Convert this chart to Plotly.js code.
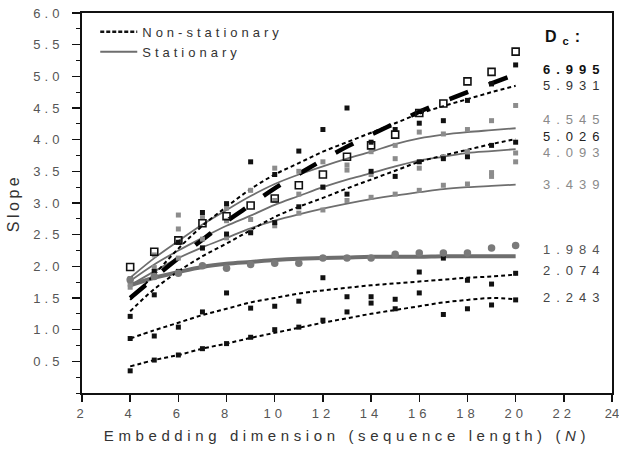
<!DOCTYPE html>
<html>
<head>
<meta charset="utf-8">
<script src="https://cdn.plot.ly/plotly-3.0.1.min.js"></script>
<style>
  body { margin: 0; background: #fff; }
  #chart { width: 619px; height: 450px; }
  .xtick text, .ytick text { letter-spacing: 4px; }
  .xtick:last-child text { letter-spacing: 0px; }
  .legendtext { letter-spacing: 4px; }
  .annotation-text { letter-spacing: 6px; }
  .xtitle { letter-spacing: 4.6px; }
  .ytitle { letter-spacing: 3.5px; }
</style>
</head>
<body>
<div id="chart"></div>
<script>
// Embedding dimension N
var dims = [4,5,6,7,8,9,10,11,12,13,14,15,16,17,18,19,20];

// Non-stationary fits
var fitNS_6995 = [1.50,1.82,2.13,2.42,2.71,2.97,3.23,3.46,3.68,3.89,4.08,4.26,4.44,4.60,4.75,4.89,5.03];
var fitNS_5931 = [1.47,1.87,2.28,2.64,2.94,3.22,3.45,3.63,3.81,3.96,4.11,4.26,4.41,4.53,4.64,4.75,4.85];
var fitNS_5026 = [1.29,1.64,1.92,2.16,2.36,2.57,2.78,2.94,3.08,3.23,3.37,3.51,3.65,3.75,3.84,3.93,4.01];
var fitNS_2074 = [0.86,0.99,1.11,1.23,1.33,1.43,1.50,1.57,1.62,1.66,1.70,1.73,1.76,1.79,1.82,1.84,1.87];
var fitNS_2243 = [0.42,0.52,0.60,0.70,0.78,0.87,0.95,1.03,1.11,1.18,1.25,1.31,1.37,1.43,1.47,1.50,1.48];

// Stationary fits
var fitS_4545 = [1.82,2.13,2.40,2.66,2.89,3.11,3.30,3.45,3.58,3.70,3.81,3.93,4.02,4.08,4.12,4.15,4.18];
var fitS_4093 = [1.77,2.03,2.25,2.45,2.64,2.80,2.97,3.11,3.25,3.37,3.47,3.58,3.67,3.73,3.79,3.82,3.85];
var fitS_3439 = [1.70,1.92,2.13,2.30,2.45,2.60,2.72,2.82,2.91,2.99,3.06,3.12,3.17,3.22,3.25,3.27,3.29];
var fitS_1984 = [1.70,1.82,1.91,1.99,2.04,2.07,2.10,2.12,2.13,2.14,2.15,2.15,2.15,2.16,2.16,2.16,2.16];

// Measured slopes
var ptsNS_6995 = [1.99,2.23,2.41,2.68,2.79,2.96,3.07,3.28,3.45,3.73,3.91,4.08,4.42,4.57,4.92,5.07,5.39];
var ptsNS_5931 = [1.80,1.92,2.38,2.85,2.99,3.65,3.45,3.82,4.16,4.50,3.96,4.16,4.26,4.30,4.62,4.88,5.18];
var ptsNS_5026 = [1.21,1.55,1.92,2.29,2.51,2.53,2.69,2.94,3.25,3.14,3.50,3.42,3.65,3.70,3.73,3.91,3.96];
var ptsNS_2074 = [0.86,0.90,1.04,1.28,1.58,1.34,1.37,1.45,1.82,1.52,1.52,1.48,1.91,2.13,1.78,1.72,1.89];
var ptsNS_2243 = [0.35,0.52,0.60,0.70,0.78,0.88,1.00,1.04,1.15,1.28,1.42,1.33,1.58,1.24,1.33,1.39,1.47];
var ptsS_4545 = [1.77,2.18,2.81,2.77,2.92,3.20,3.55,3.50,3.65,3.60,3.81,3.91,4.12,4.09,4.16,4.30,4.54];
var ptsS_4093 = [1.67,1.98,2.59,2.43,2.72,2.74,3.04,3.14,3.25,3.52,3.45,3.70,3.55,3.73,3.81,3.48,3.79];
var ptsS_3439 = [1.72,1.92,2.13,2.29,2.45,2.55,2.64,2.84,2.89,3.04,3.09,3.14,3.20,3.28,3.30,3.42,3.65];
var ptsS_1984 = [1.79,1.84,1.89,2.01,1.97,2.03,2.05,2.05,2.13,2.13,2.13,2.19,2.21,2.21,2.21,2.29,2.33];

// Correlation dimension labels
var dcLabels = ['6.995','5.931','4.545','5.026','4.093','3.439','1.984','2.074','2.243'];
var dcLabelY = [5.11,4.86,4.32,4.05,3.79,3.30,2.26,1.94,1.51];
var dcColors = ['#111','#333','#8a8a8a','#222','#8a8a8a','#8a8a8a','#555','#444','#444'];
var dcBold = [true,false,false,false,false,false,false,false,false];

var xTicks = [2,4,6,8,10,12,14,16,18,20,22,24];
var yTicks = [0.5,1.0,1.5,2.0,2.5,3.0,3.5,4.0,4.5,5.0,5.5,6.0];

var GRAY = '#6e6e6e';
var traces = [];
function line(y, color, width, dash) {
  traces.push({x: dims, y: y, mode: 'lines', line: {color: color, width: width, dash: dash, shape: 'spline'}, showlegend: false, hoverinfo: 'skip'});
}
function pts(y, symbol, size, color, lineColor, lineWidth) {
  traces.push({x: dims, y: y, mode: 'markers', marker: {symbol: symbol, size: size, color: color, line: {color: lineColor || color, width: lineWidth || 0}}, showlegend: false, hoverinfo: 'skip'});
}
// stationary fits
line(fitS_4545, GRAY, 1.8, 'solid');
line(fitS_4093, GRAY, 1.8, 'solid');
line(fitS_3439, GRAY, 1.8, 'solid');
line(fitS_1984, GRAY, 4, 'solid');
// non-stationary fits
line(fitNS_5931, '#000', 2, '4px,3px');
line(fitNS_5026, '#000', 2, '4px,3px');
line(fitNS_2074, '#000', 2, '4px,3px');
line(fitNS_2243, '#000', 2, '4px,3px');
line(fitNS_6995, '#000', 4.5, '20px,22px');
// points
pts(ptsS_4545, 'square', 5, '#8c8c8c');
pts(ptsS_4093, 'square', 5, '#8c8c8c');
pts(ptsS_3439, 'square', 5, '#8c8c8c');
pts(ptsNS_5931, 'square', 5, '#111');
pts(ptsNS_5026, 'square', 5, '#111');
pts(ptsNS_2074, 'square', 5, '#111');
pts(ptsNS_2243, 'square', 5, '#111');
pts(ptsS_1984, 'circle', 7.5, '#7a7a7a');
pts(ptsNS_6995, 'square-open', 7, '#111', '#111', 1.6);

// legend entries
traces.push({x: [null], y: [null], mode: 'lines', name: 'Non-stationary', line: {color: '#111', width: 2.5, dash: '4px,2px'}});
traces.push({x: [null], y: [null], mode: 'lines', name: 'Stationary', line: {color: GRAY, width: 2}});

var annotations = dcLabels.map(function (t, i) {
  return {x: 21.1, y: dcLabelY[i], xref: 'x', yref: 'y', xanchor: 'left', yanchor: 'middle',
    text: dcBold[i] ? '<b>' + t + '</b>' : t, showarrow: false, borderpad: 0,
    font: {family: 'Liberation Sans, Arial, sans-serif', size: 13, color: dcColors[i]}};
});
annotations.push({x: 21.15, y: 5.62, xref: 'x', yref: 'y', xanchor: 'left', yanchor: 'middle',
  text: '<b>D</b><sub><b>c</b></sub><b>:</b>', showarrow: false,
  font: {family: 'Liberation Sans, Arial, sans-serif', size: 16, color: '#111'}});

var axisFont = {family: 'Liberation Sans, Arial, sans-serif', size: 13, color: '#555'};
var layout = {
  width: 619, height: 450,
  margin: {l: 82, r: 7, t: 13, b: 57},
  paper_bgcolor: '#fff', plot_bgcolor: '#fff',
  font: {family: 'Liberation Sans, Arial, sans-serif'},
  showlegend: true,
  legend: {x: 0.025, y: 0.99, xanchor: 'left', yanchor: 'top', bgcolor: 'rgba(0,0,0,0)',
    font: {family: 'Liberation Sans, Arial, sans-serif', size: 13, color: '#333'}, itemwidth: 37, tracegroupgap: 0},
  xaxis: {range: [2, 24], tickmode: 'array', tickvals: xTicks, ticktext: xTicks.map(String),
    ticks: 'outside', ticklen: 7, tickwidth: 1.5, tickcolor: '#111', ticklabeloverflow: 'allow',
    showline: true, linewidth: 2, linecolor: '#111', mirror: true,
    showgrid: false, zeroline: false, tickfont: axisFont,
    title: {text: 'Embedding dimension (sequence length) (<i>N</i>)', standoff: 11,
      font: {family: 'Liberation Sans, Arial, sans-serif', size: 15, color: '#333'}}},
  yaxis: {range: [0, 6], tickmode: 'array', tickvals: yTicks, ticktext: yTicks.map(function (v) { return v.toFixed(1); }),
    ticks: 'outside', ticklen: 8, tickwidth: 1.5, tickcolor: '#111',
    minor: {tickmode: 'linear', tick0: 0, dtick: 0.25, ticks: 'outside', ticklen: 4, tickwidth: 1, tickcolor: '#111'},
    showline: true, linewidth: 2, linecolor: '#111', mirror: true,
    showgrid: false, zeroline: false, tickfont: axisFont, ticklabelstandoff: 6,
    title: {text: 'Slope', standoff: 10,
      font: {family: 'Liberation Sans, Arial, sans-serif', size: 16, color: '#333'}}},
  annotations: annotations
};
Plotly.newPlot('chart', traces, layout, {displayModeBar: false, staticPlot: true});
</script>
</body>
</html>
